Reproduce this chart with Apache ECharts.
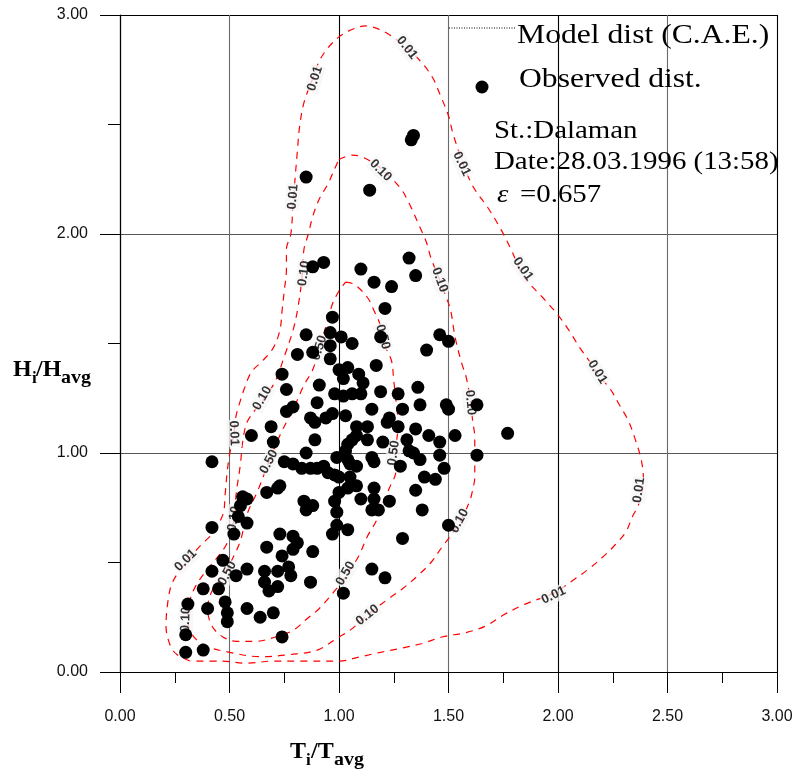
<!DOCTYPE html>
<html>
<head>
<meta charset="utf-8">
<script src="https://cdn.jsdelivr.net/npm/echarts@6/dist/echarts.min.js"></script>
<style>
  html, body { margin: 0; padding: 0; background: #fff; }
  #chart { width: 798px; height: 773px; }
</style>
</head>
<body>
<div id="chart"></div>
<script>
// Observed wave heights and periods, normalised by their averages
const obsT = [0.85,1.33,1.34,1.14,0.88,0.93,1.10,1.32,1.35,1.16,1.24,1.21,0.97,0.96,0.85,1.01,1.06,0.96,0.88,0.81,0.96,1.19,1.46,1.50,1.40,1.17,1.00,1.04,1.02,1.09,1.11,0.74,0.76,0.91,1.36,0.98,1.02,1.06,1.10,1.19,1.27,0.90,0.79,0.76,0.87,0.89,0.94,0.97,1.03,1.15,1.29,1.23,1.22,1.27,1.37,1.49,1.50,1.63,1.08,1.13,0.69,1.35,0.60,0.70,0.89,0.85,0.75,0.79,0.83,0.87,0.90,0.93,0.95,0.98,1.00,0.99,1.03,1.04,1.06,1.08,1.13,1.15,1.16,1.04,1.05,1.08,1.20,1.31,1.32,1.34,1.37,1.41,1.46,1.46,1.48,1.39,1.44,1.28,1.53,1.63,1.77,0.42,1.05,1.08,1.04,1.00,0.98,0.99,0.99,0.97,1.16,1.10,1.16,1.15,1.18,1.23,1.35,1.38,1.29,1.50,1.04,0.73,0.72,0.67,0.84,0.85,0.88,0.55,0.56,0.58,0.54,0.58,0.52,0.42,0.73,0.79,0.81,0.79,0.74,0.67,0.88,0.47,0.42,0.53,0.58,0.66,0.72,0.77,0.78,0.66,0.68,0.72,0.87,1.15,1.21,1.02,0.38,0.45,0.31,0.48,0.40,0.49,0.49,0.58,0.64,0.70,0.30,0.74,0.30,0.38];
const obsH = [2.26,2.43,2.45,2.20,1.85,1.87,1.84,1.89,1.81,1.78,1.76,1.66,1.62,1.55,1.54,1.53,1.50,1.49,1.46,1.45,1.43,1.53,1.54,1.51,1.47,1.40,1.38,1.39,1.34,1.36,1.32,1.36,1.29,1.31,1.30,1.27,1.26,1.27,1.27,1.28,1.27,1.23,1.21,1.19,1.16,1.14,1.16,1.18,1.17,1.20,1.20,1.16,1.14,1.12,1.22,1.22,1.20,1.22,1.12,1.12,1.12,1.11,1.08,1.05,1.06,1.00,0.96,0.95,0.93,0.93,0.93,0.94,0.91,0.90,0.89,0.98,1.01,1.04,1.06,1.08,1.06,0.98,0.96,0.97,0.95,0.94,1.05,1.06,1.01,1.00,0.97,1.08,1.05,0.99,0.93,0.89,0.88,0.94,1.08,0.99,1.09,0.96,0.89,0.85,0.84,0.82,0.78,0.73,0.67,0.63,0.84,0.79,0.79,0.74,0.74,0.78,0.83,0.74,0.61,0.67,0.65,0.85,0.84,0.82,0.78,0.74,0.76,0.76,0.80,0.79,0.71,0.68,0.63,0.66,0.63,0.62,0.59,0.56,0.53,0.57,0.55,0.51,0.46,0.44,0.47,0.46,0.46,0.48,0.44,0.41,0.37,0.39,0.41,0.47,0.43,0.36,0.38,0.38,0.31,0.32,0.29,0.27,0.23,0.29,0.25,0.27,0.17,0.16,0.09,0.10];

// Model (C.A.E.) joint-probability contours, as [T/Tavg, H/Havg] traces
const level001 = [[0.32,0.05],[0.26,0.08],[0.23,0.12],[0.21,0.21],[0.22,0.33],[0.24,0.41],[0.30,0.50],[0.37,0.58],[0.42,0.63],[0.47,0.72],[0.48,0.81],[0.49,0.92],[0.50,0.99],[0.52,1.09],[0.53,1.17],[0.55,1.24],[0.57,1.30],[0.60,1.37],[0.65,1.42],[0.70,1.48],[0.73,1.56],[0.74,1.65],[0.75,1.74],[0.76,1.84],[0.76,1.93],[0.78,2.00],[0.79,2.13],[0.80,2.26],[0.81,2.38],[0.82,2.49],[0.84,2.60],[0.88,2.71],[0.91,2.79],[0.95,2.85],[1.00,2.90],[1.05,2.93],[1.12,2.95],[1.17,2.94],[1.23,2.91],[1.31,2.85],[1.38,2.78],[1.43,2.71],[1.46,2.64],[1.50,2.54],[1.52,2.46],[1.56,2.34],[1.61,2.22],[1.68,2.12],[1.74,2.02],[1.79,1.92],[1.84,1.81],[1.93,1.71],[2.00,1.63],[2.05,1.56],[2.10,1.48],[2.15,1.41],[2.19,1.35],[2.24,1.29],[2.28,1.22],[2.32,1.15],[2.35,1.07],[2.38,0.97],[2.39,0.88],[2.37,0.77],[2.34,0.71],[2.31,0.64],[2.26,0.58],[2.21,0.53],[2.14,0.47],[2.07,0.42],[1.98,0.36],[1.85,0.31],[1.75,0.26],[1.67,0.21],[1.58,0.18],[1.47,0.16],[1.38,0.13],[1.29,0.11],[1.19,0.09],[1.10,0.07],[1.00,0.05],[0.82,0.05],[0.70,0.05],[0.58,0.04],[0.46,0.05],[0.32,0.05]];
const level010 = [[1.00,2.34],[1.06,2.36],[1.11,2.35],[1.19,2.30],[1.28,2.21],[1.32,2.14],[1.37,2.03],[1.40,1.96],[1.42,1.89],[1.46,1.79],[1.49,1.71],[1.51,1.65],[1.53,1.53],[1.56,1.41],[1.58,1.35],[1.60,1.24],[1.61,1.15],[1.62,1.07],[1.62,0.95],[1.62,0.89],[1.61,0.83],[1.60,0.79],[1.57,0.72],[1.53,0.65],[1.47,0.57],[1.42,0.50],[1.36,0.44],[1.29,0.38],[1.22,0.33],[1.13,0.26],[1.05,0.19],[1.00,0.16],[0.90,0.10],[0.78,0.08],[0.64,0.07],[0.50,0.09],[0.39,0.12],[0.33,0.17],[0.31,0.24],[0.32,0.33],[0.35,0.40],[0.40,0.47],[0.45,0.53],[0.49,0.59],[0.52,0.69],[0.53,0.81],[0.55,0.95],[0.56,1.05],[0.58,1.14],[0.62,1.20],[0.66,1.25],[0.71,1.33],[0.75,1.44],[0.79,1.56],[0.81,1.65],[0.83,1.79],[0.84,1.93],[0.86,2.00],[0.88,2.08],[0.91,2.16],[0.95,2.23],[0.99,2.32],[1.00,2.34]];
const level050 = [[1.03,1.78],[1.07,1.77],[1.13,1.71],[1.16,1.65],[1.19,1.58],[1.21,1.49],[1.24,1.42],[1.25,1.33],[1.26,1.24],[1.27,1.13],[1.26,1.01],[1.26,0.92],[1.23,0.84],[1.20,0.77],[1.17,0.69],[1.13,0.62],[1.09,0.53],[1.04,0.45],[0.98,0.37],[0.91,0.29],[0.85,0.24],[0.79,0.19],[0.71,0.16],[0.62,0.14],[0.53,0.14],[0.47,0.16],[0.42,0.21],[0.40,0.29],[0.42,0.37],[0.47,0.44],[0.51,0.51],[0.55,0.60],[0.58,0.72],[0.63,0.83],[0.68,0.96],[0.73,1.08],[0.80,1.22],[0.84,1.31],[0.88,1.38],[0.91,1.48],[0.95,1.61],[0.97,1.68],[1.00,1.74],[1.03,1.78]];

// Contour level tags: [T/Tavg, H/Havg, text, angle]
const levelTags = [
  [1.31,2.85,'0.01',-52],[0.89,2.71,'0.01',72],[0.79,2.17,'0.01',85],[1.56,2.32,'0.01',-65],
  [1.84,1.84,'0.01',-55],[2.18,1.37,'0.01',-58],[2.37,0.83,'0.01',82],[1.98,0.35,'0.01',25],
  [0.52,1.09,'0.01',-88],[0.30,0.51,'0.01',45],
  [1.19,2.29,'0.10',-45],[0.84,1.82,'0.10',82],[1.46,1.79,'0.10',-70],[1.60,1.23,'0.10',-85],
  [1.55,0.69,'0.10',62],[1.13,0.26,'0.10',38],[0.65,1.25,'0.10',60],[0.30,0.24,'0.10',88],
  [0.52,0.70,'0.10',80],
  [0.91,1.48,'0.50',72],[1.20,1.53,'0.50',-75],[1.25,1.00,'0.50',82],[1.03,0.45,'0.50',60],
  [0.68,0.96,'0.50',62],[0.49,0.45,'0.50',62]
];

const xTicks = { min: 0, max: 3, step: 0.5 };
const yTicks = { min: 0, max: 3, step: 1 };

const chart = echarts.init(document.getElementById('chart'), null, { renderer: 'canvas' });

const contourStyle = { color: '#ff0000', width: 1.2, type: [7, 6] };
function contour(data) {
  return {
    type: 'line', data: data, showSymbol: false, symbol: 'none', smooth: 0.35,
    lineStyle: contourStyle, silent: true, z: 2
  };
}

const serif = '"Liberation Serif", "Times New Roman", serif';
const sans = '"Liberation Sans", Arial, sans-serif';

// serif caption text, slightly widened
function caption(x, y, text, size, stretch, extra) {
  return {
    type: 'text', x: x, y: y, scaleX: stretch, z: 10, silent: true,
    style: { text: text, font: (extra || '') + size + 'px ' + serif, fill: '#000', verticalAlign: 'top' }
  };
}

chart.setOption({
  animation: false,
  backgroundColor: '#fff',
  grid: { left: 120, top: 15, width: 657, height: 657, containLabel: false },
  xAxis: {
    type: 'value', min: xTicks.min, max: xTicks.max, interval: xTicks.step,
    axisLine: { show: true, onZero: false, lineStyle: { color: '#000', width: 1.2 } },
    axisTick: { show: true, length: 21, lineStyle: { color: '#000', width: 1 } },
    minorTick: { show: true, splitNumber: 2, length: 11, lineStyle: { color: '#000', width: 1 } },
    splitLine: { show: true, lineStyle: { color: ['#000', '#6a6a6a'], width: 1.1 } },
    axisLabel: { formatter: v => v.toFixed(2), fontFamily: sans, fontSize: 16, color: '#111', margin: 37 }
  },
  yAxis: {
    type: 'value', min: yTicks.min, max: yTicks.max, interval: yTicks.step,
    axisLine: { show: true, onZero: false, lineStyle: { color: '#000', width: 1.2 } },
    axisTick: { show: true, length: 20, lineStyle: { color: '#000', width: 1 } },
    minorTick: { show: true, splitNumber: 2, length: 12, lineStyle: { color: '#000', width: 1 } },
    splitLine: { show: true, lineStyle: { color: ['#000', '#555', '#555', '#000'], width: 1.1 } },
    axisLabel: { formatter: v => v.toFixed(2), fontFamily: sans, fontSize: 16, color: '#111', margin: 32 }
  },
  series: [
    contour(level001),
    contour(level010),
    contour(level050),
    {
      type: 'scatter', z: 4, silent: true,
      data: obsT.map((t, i) => [t, obsH[i]]),
      symbol: 'circle', symbolSize: 13,
      itemStyle: { color: '#000', opacity: 1 }
    },
    {
      type: 'scatter', z: 3, silent: true, symbolSize: 0,
      data: levelTags.map(d => ({
        value: [d[0], d[1]],
        label: { show: true, formatter: d[2], rotate: d[3], position: 'inside' }
      })),
      label: {
        fontFamily: sans, fontWeight: 'bold', fontSize: 13, color: '#000',
        backgroundColor: 'rgba(246,246,246,0.95)', padding: [1, 1]
      }
    }
  ],
  graphic: [
    // legend: model line sample
    { type: 'line', shape: { x1: 449, y1: 28, x2: 516, y2: 28 },
      style: { stroke: '#000', lineWidth: 1, lineDash: [1, 1.5] }, z: 10 },
    caption(517, 22, 'Model dist (C.A.E.)', 28, 1.13),
    { type: 'circle', shape: { cx: 482, cy: 87, r: 6.5 }, style: { fill: '#000' }, z: 10 },
    caption(519, 66, 'Observed dist.', 28, 1.13),
    caption(494, 118, 'St.:Dalaman', 26, 1.11),
    caption(494, 149, 'Date:28.03.1996 (13:58)', 26, 1.11),
    caption(497, 182, 'ε', 26, 1.11, 'italic '),
    caption(520, 182, '=0.657', 26, 1.11),
    // y axis title H_i/H_avg
    caption(13, 358, 'H', 24, 1, 'bold '),
    caption(32, 370, 'i', 17, 1, 'bold '),
    caption(36, 358, '/H', 24, 1, 'bold '),
    caption(61, 369, 'avg', 19, 1.05, 'bold '),
    // x axis title T_i/T_avg
    caption(290, 740, 'T', 24, 1, 'bold '),
    caption(306, 752, 'i', 17, 1, 'bold '),
    caption(311, 740, '/T', 24, 1, 'bold '),
    caption(334, 751, 'avg', 19, 1.05, 'bold ')
  ]
});
</script>
</body>
</html>
